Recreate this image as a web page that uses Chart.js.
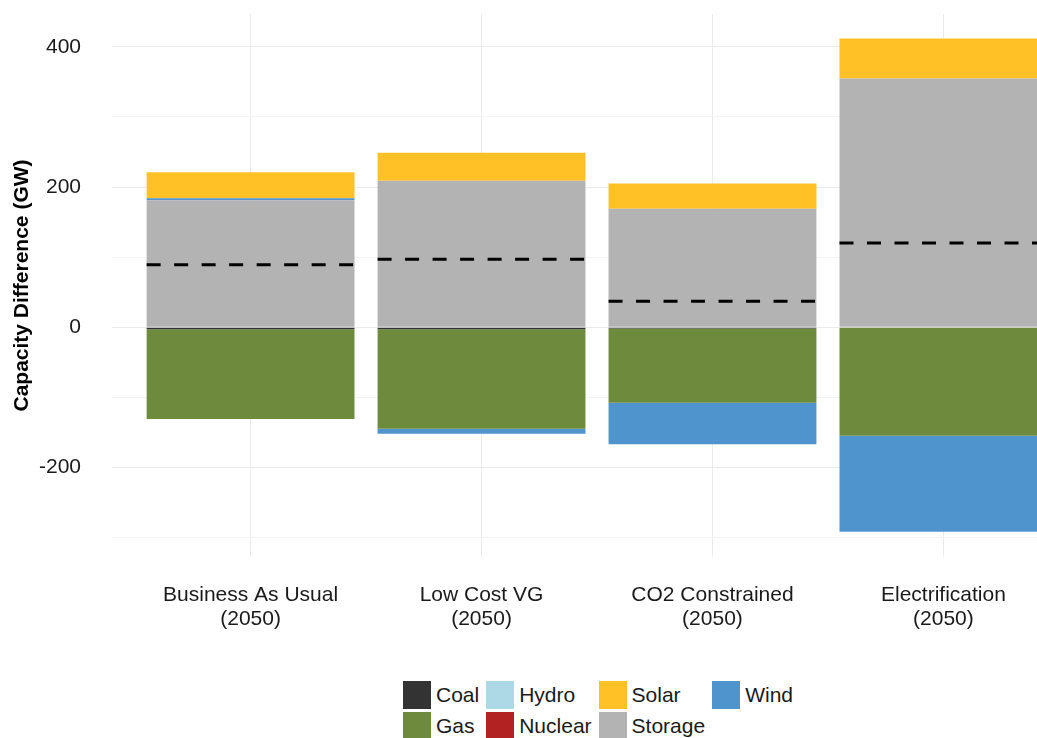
<!DOCTYPE html>
<html>
<head>
<meta charset="utf-8">
<script src="https://cdn.jsdelivr.net/npm/chart.js@4/dist/chart.umd.min.js"></script>
<style>
  html, body { margin: 0; padding: 0; background: #fff; overflow: hidden; }
  #wrap { position: absolute; left: 0; top: 0; width: 1090px; height: 660px; }
  #legend {
    position: absolute; left: 403px; top: 681px;
    display: grid; grid-template-columns: auto auto auto auto;
    column-gap: 7px; row-gap: 3px;
    font-family: "Liberation Sans", Arial, sans-serif; font-size: 21px; color: #1a1a1a;
  }
  .item { display: flex; align-items: center; }
  .box { width: 28px; height: 28px; margin-right: 5px; }
</style>
</head>
<body>
<div id="wrap"><canvas id="theChart" width="1090" height="660"></canvas></div>
<div id="legend"></div>
<script>
const scenarios = [
  ["Business As Usual", "(2050)"],
  ["Low Cost VG", "(2050)"],
  ["CO2 Constrained", "(2050)"],
  ["Electrification", "(2050)"],
];

// capacity difference by technology (GW)
const coal = [-3, -3, -2, 0];
const gas = [-128, -142, -106, -155];
const storage = [181, 209, 169, 355];
const wind = [3, -7, -59, -137];
const solar = [37, 40, 36, 57];
const hydro = [0, 0, 0, 0];
const nuclear = [0, 0, 0, 0];
const netChange = [89, 97, 37, 120];

const yTicks = [-300, -200, -100, 0, 100, 200, 300, 400];
const legendOrder = ["Coal", "Hydro", "Solar", "Wind", "Gas", "Nuclear", "Storage"];

const colorPalette = {
  Coal: "#333333",
  Gas: "#6e8b3d",
  Hydro: "#add8e6",
  Nuclear: "#b22222",
  Solar: "#ffc125",
  Storage: "#b3b3b3",
  Wind: "#4f94cd",
};

const fontFamily = '"Liberation Sans", Arial, sans-serif';

// stacking order: first dataset sits nearest zero
const series = [
  ["Coal", coal],
  ["Gas", gas],
  ["Storage", storage],
  ["Wind", wind],
  ["Solar", solar],
  ["Hydro", hydro],
  ["Nuclear", nuclear],
];

const datasets = series.map(([name, values]) => ({
  label: name,
  data: values.map((v, i) => ({ x: i + 1, y: v })),
  backgroundColor: colorPalette[name],
  borderWidth: 0,
  categoryPercentage: 1,
  barPercentage: 0.9,
}));

// dashed net-change line across each bar
const netLinePlugin = {
  id: "netLine",
  afterDatasetsDraw(chart) {
    const meta = chart.getDatasetMeta(0);
    const yScale = chart.scales.y;
    const ctx = chart.ctx;
    ctx.save();
    ctx.strokeStyle = "#000";
    ctx.lineWidth = 3;
    ctx.setLineDash([14, 13.5]);
    meta.data.forEach((bar, i) => {
      const half = bar.width / 2;
      const y = yScale.getPixelForValue(netChange[i]);
      ctx.beginPath();
      ctx.moveTo(bar.x - half, y);
      ctx.lineTo(bar.x + half, y);
      ctx.stroke();
    });
    ctx.restore();
  },
};

const chartArea = document.querySelector("#theChart");
const myChart = new Chart(chartArea, {
  type: "bar",
  data: { datasets },
  plugins: [netLinePlugin],
  options: {
    responsive: false,
    animation: false,
    devicePixelRatio: 1,
    layout: { padding: { top: 14, right: 8, left: 0, bottom: 0 } },
    plugins: {
      legend: { display: false },
      tooltip: { enabled: false },
    },
    scales: {
      x: {
        type: "linear",
        stacked: true,
        offset: false,
        min: 0.4,
        max: 4.6,
        afterBuildTicks: (axis) => {
          axis.ticks = scenarios.map((s, i) => ({ value: i + 1 }));
        },
        afterFit: (axis) => {
          axis.height = 103;
          axis.paddingLeft = 0;
          axis.paddingRight = 0;
        },
        border: { display: false },
        grid: { color: "#ebebeb", drawTicks: false, offset: false },
        ticks: {
          padding: 26,
          color: "#1a1a1a",
          maxRotation: 0,
          autoSkip: false,
          font: { family: fontFamily, size: 21, lineHeight: 1.14 },
          callback: (value) => scenarios[value - 1] || "",
        },
      },
      y: {
        stacked: true,
        min: -328,
        max: 447,
        afterBuildTicks: (axis) => {
          axis.ticks = yTicks.map((v) => ({ value: v }));
        },
        afterFit: (axis) => {
          axis.width = 112;
          axis.paddingTop = 0;
          axis.paddingBottom = 0;
        },
        border: { display: false },
        grid: {
          drawTicks: false,
          color: (ctx) => (ctx.tick && ctx.tick.value % 200 === 0 ? "#ebebeb" : "#f4f4f4"),
        },
        ticks: {
          padding: 31,
          color: "#1a1a1a",
          font: { family: fontFamily, size: 21 },
          callback: (value) => (value % 200 === 0 ? String(value) : ""),
        },
        title: {
          display: true,
          text: "Capacity Difference (GW)",
          color: "#000",
          padding: { top: 10, bottom: 0 },
          font: { family: fontFamily, size: 21, weight: "bold", lineHeight: 1.2 },
        },
      },
    },
  },
});

// legend laid out in four columns like the original
const legendEl = document.getElementById("legend");
legendOrder.forEach((name) => {
  const item = document.createElement("div");
  item.className = "item";
  item.innerHTML = `<span class="box" style="background:${colorPalette[name]}"></span><span>${name}</span>`;
  legendEl.appendChild(item);
});
</script>
</body>
</html>
